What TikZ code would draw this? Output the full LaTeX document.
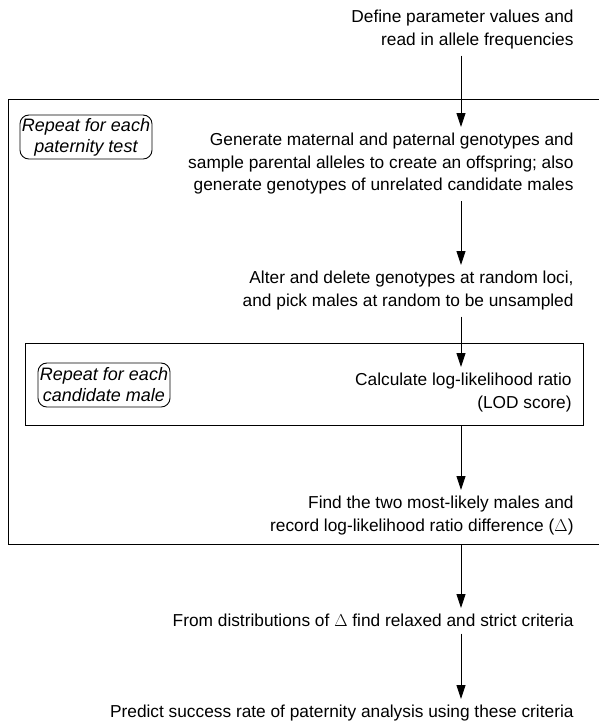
\documentclass[tikz,border=0pt]{standalone}
\usepackage{fontspec}
\setmainfont{Liberation Sans}
\usetikzlibrary{arrows.meta, positioning, calc}

\begin{document}
\begin{tikzpicture}[x=1pt, y=-1pt, line width=0.9pt,
    steptext/.style={anchor=north east, align=right, inner xsep=0pt, inner ysep=6pt,
      font=\fontsize{17.3}{22.5}\selectfont},
    repeatbox/.style={draw, rounded corners=9pt, align=center, inner sep=2pt,
      minimum width=128pt, minimum height=44pt, font=\fontsize{18}{21}\selectfont\itshape},
    frame/.style={draw, anchor=north west, inner sep=0pt},
    >={Triangle[length=14pt,width=9pt]}]

  \useasboundingbox (0,0) rectangle (599,724);
  \coordinate (ax) at (461,0);

  % steps
  \node[steptext] (define) at (574,4) {Define parameter values and\\read in allele frequencies};
  \node[steptext] (generate) at (574,127) {Generate maternal and paternal genotypes and\\
    sample parental alleles to create an offspring; also\\
    generate genotypes of unrelated candidate males};
  \node[steptext] (alter) at (574,265) {Alter and delete genotypes at random loci,\\
    and pick males at random to be unsampled};
  \node[steptext] (calc) at (572,367) {Calculate log-likelihood ratio\\(LOD score)};
  \node[steptext] (find) at (574,490) {Find the two most-likely males and\\
    record log-likelihood ratio difference ($\Delta$)};
  \node[steptext] (from) at (574,608) {From distributions of $\Delta$ find relaxed and strict criteria};
  \node[steptext] (predict) at (574,699) {Predict success rate of paternity analysis using these criteria};

  % loops
  \node[frame, minimum width=640pt, minimum height=445pt] (testbox) at (8,99) {};
  \node[frame, minimum width=558pt, minimum height=82pt] (malebox) at (25,343) {};
  \node[repeatbox] (rep1) at (86,137) {Repeat for each\\paternity test};
  \node[repeatbox] (rep2) at (104,385) {Repeat for each\\candidate male};

  % arrows
  \draw[->] (define.south -| ax) -- (generate.north -| ax);
  \draw[->] (generate.south -| ax) -- (alter.north -| ax);
  \draw[->] (alter.south -| ax) -- (calc.north -| ax);
  \draw[->] (malebox.south -| ax) -- (find.north -| ax);
  \draw[->] (testbox.south -| ax) -- (from.north -| ax);
  \draw[->] (from.south -| ax) -- (predict.north -| ax);
\end{tikzpicture}
\end{document}
